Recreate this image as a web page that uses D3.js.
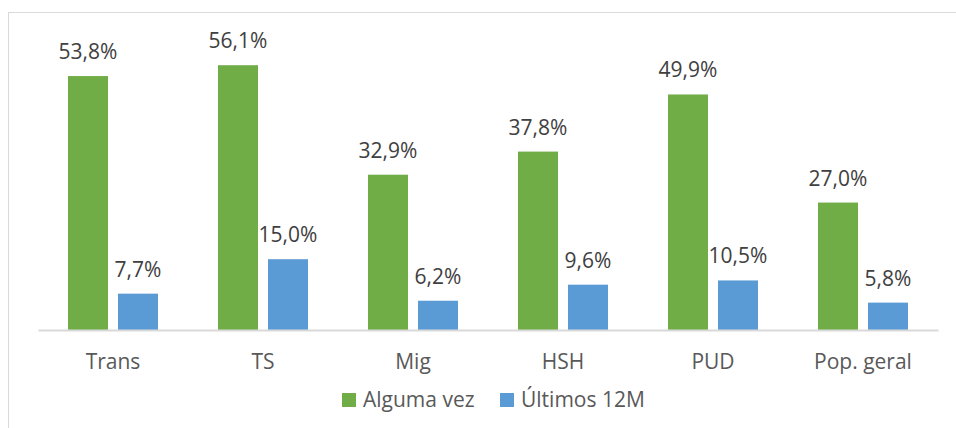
<!DOCTYPE html>
<html><head><meta charset="utf-8">
<script src="https://cdn.jsdelivr.net/npm/d3@7"></script>
<style>body{margin:0;background:#fff;} svg{display:block;}</style>
</head><body>
<script>
const categories = ["Trans","TS","Mig","HSH","PUD","Pop. geral"];
const seriesNames = ["Alguma vez","Últimos 12M"];
const algumaVez = [53.8,56.1,32.9,37.8,49.9,27.0];
const ultimos12M = [7.7,15.0,6.2,9.6,10.5,5.8];
const colors = ["#70AD47","#5B9BD5"];

const W=956,H=428;
const svg=d3.select("body").append("svg").attr("width",W).attr("height",H);
svg.append("rect").attr("x",8.5).attr("y",12.5).attr("width",1000).attr("height",600)
  .attr("fill","none").attr("stroke","#D9D9D9").attr("stroke-width",1);

const font="'Open Sans', sans-serif";
const x=d3.scaleBand().domain(categories).range([38,938]);
const x1=d3.scaleBand().domain(seriesNames).range([x.bandwidth()/2-45,x.bandwidth()/2+45]).paddingInner(0.2);
const y=d3.scaleLinear().domain([0,60]).range([330,330-60*4.72]);

const data=categories.map((c,i)=>({c,vals:[algumaVez[i],ultimos12M[i]]}));
const g=svg.append("g");
const grp=g.selectAll("g.cat").data(data).join("g").attr("transform",d=>`translate(${x(d.c)},0)`);
grp.selectAll("rect").data(d=>d.vals.map((v,j)=>({v,s:seriesNames[j],j}))).join("rect")
  .attr("x",d=>x1(d.s)).attr("width",x1.bandwidth())
  .attr("y",d=>y(d.v)).attr("height",d=>y(0)-y(d.v)).attr("fill",d=>colors[d.j]);
grp.selectAll("text").data(d=>d.vals.map((v,j)=>({v,s:seriesNames[j],j}))).join("text")
  .attr("x",d=>x1(d.s)+x1.bandwidth()/2).attr("y",d=>y(d.v)-17)
  .attr("text-anchor","middle").attr("font-family",font).attr("font-size",21).attr("fill","#404040")
  .text(d=>d.v.toFixed(1).replace(".",",")+"%");

const ax=svg.append("g").attr("transform","translate(0,330)").call(d3.axisBottom(x).tickSize(0).tickPadding(0));
ax.select(".domain").attr("stroke","#D9D9D9").attr("stroke-width",2);
ax.selectAll("text").attr("font-family",font).attr("font-size",21).attr("fill","#595959")
  .attr("dy",null).attr("y",39);

const leg=svg.append("g");
const lx=[342,500];
seriesNames.forEach((s,i)=>{
  leg.append("rect").attr("x",lx[i]).attr("y",393).attr("width",14).attr("height",14).attr("fill",colors[i]);
  leg.append("text").attr("x",lx[i]+21).attr("y",407).attr("font-family",font).attr("font-size",21).attr("fill","#595959").text(s);
});
</script>
</body></html>
